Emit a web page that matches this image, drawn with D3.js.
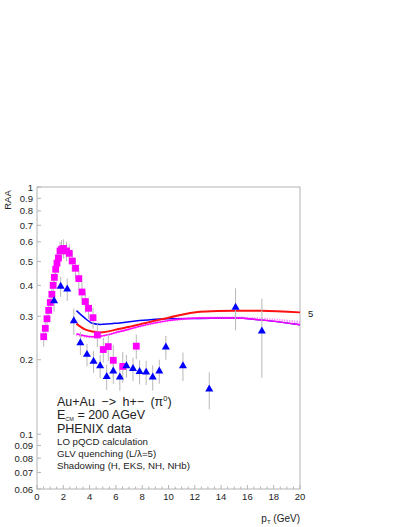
<!DOCTYPE html>
<html>
<head>
<meta charset="utf-8">
<script src="https://cdn.jsdelivr.net/npm/d3@7"></script>
<style>
  body { margin: 0; background: white; }
  svg text { font-family: "Liberation Sans", Arial, Helvetica, sans-serif; fill: #222; }
</style>
</head>
<body>
<svg id="chart" width="407" height="527"></svg>
<script>
// PHENIX data, magenta squares
var sqPt = [0.51, 0.63, 0.76, 0.89, 1.01, 1.13, 1.23, 1.32, 1.42, 1.52, 1.63, 1.75, 1.87, 2.02, 2.25, 2.45, 2.68, 2.93, 3.18, 3.42, 3.67, 3.92, 4.26, 4.59, 5.04, 5.42, 5.80, 6.52, 7.55];
var sqR  = [0.248, 0.268, 0.293, 0.317, 0.341, 0.368, 0.400, 0.431, 0.465, 0.492, 0.516, 0.551, 0.560, 0.564, 0.551, 0.539, 0.502, 0.469, 0.426, 0.376, 0.344, 0.323, 0.296, 0.252, 0.220, 0.226, 0.199, 0.188, 0.227];
var sqErr = [0.022, 0.024, 0.026, 0.028, 0.030, 0.033, 0.036, 0.039, 0.042, 0.044, 0.046, 0.049, 0.050, 0.050, 0.050, 0.049, 0.048, 0.045, 0.042, 0.038, 0.034, 0.031, 0.029, 0.027, 0.025, 0.028, 0.030, 0.027, 0.026, 0.050];

// PHENIX data, blue triangles
var triPt = [1.3, 1.8, 2.3, 2.8, 3.3, 3.8, 4.3, 4.8, 5.3, 5.8, 6.3, 6.8, 7.3, 7.8, 8.3, 8.8, 9.3, 9.8, 11.1, 13.1, 15.1, 17.1];
var triR  = [0.346, 0.396, 0.386, 0.287, 0.234, 0.210, 0.197, 0.189, 0.171, 0.180, 0.170, 0.189, 0.184, 0.179, 0.178, 0.170, 0.180, 0.225, 0.189, 0.152, 0.326, 0.261];
var triErr = [0.033, 0.037, 0.04, 0.035, 0.025, 0.022, 0.02, 0.02, 0.02, 0.02, 0.02, 0.02, 0.02, 0.02, 0.02, 0.02, 0.02, 0.025, 0.025, 0.026, 0.063, 0.092];

// LO pQCD + GLV curves, one per shadowing
var curvePt = [3.0, 3.6, 4.2, 4.8, 6.3, 7.8, 10, 12.4, 15, 17, 20];
var curveH   = [0.316, 0.296, 0.281, 0.278, 0.282, 0.288, 0.293, 0.294, 0.295, 0.290, 0.277];
var curveEKS = [0.280, 0.266, 0.260, 0.258, 0.267, 0.278, 0.296, 0.313, 0.316, 0.316, 0.311];
var curveNH  = [0.255, 0.250, 0.248, 0.249, 0.260, 0.273, 0.288, 0.295, 0.295, 0.290, 0.277];
var curveNHb = [0.252, 0.249, 0.247, 0.249, 0.260, 0.273, 0.288, 0.295, 0.296, 0.293, 0.284];

var xTicks = [0, 2, 4, 6, 8, 10, 12, 14, 16, 18, 20];
var yTicks = [1, 0.9, 0.8, 0.7, 0.6, 0.5, 0.4, 0.3, 0.2, 0.1, 0.09, 0.08, 0.07, 0.06];

var svg = d3.select("#chart");

var x = d3.scaleLinear().domain([0, 20]).range([37, 300]);
var y = d3.scaleLog().domain([0.06, 1]).range([489, 187]);

var frameCol = "#b4b4b4";

// frame
svg.append("rect")
    .attr("x", x(0)).attr("y", y(1))
    .attr("width", x(20) - x(0)).attr("height", y(0.06) - y(1))
    .attr("fill", "none")
    .attr("stroke", frameCol)
    .attr("stroke-width", 1);

// x ticks (minor every 0.5)
var minor = d3.range(0, 20.01, 0.5);
svg.append("g").selectAll("line")
    .data(minor)
    .join("line")
    .attr("x1", d => x(d)).attr("x2", d => x(d))
    .attr("y1", y(0.06))
    .attr("y2", d => y(0.06) - (d % 2 === 0 ? 4 : 2.5))
    .attr("stroke", frameCol);

svg.append("g").selectAll("text")
    .data(xTicks)
    .join("text")
    .attr("x", d => x(d))
    .attr("y", 500)
    .attr("text-anchor", "middle")
    .style("font-size", "9.5px")
    .text(d => d);

// y ticks
svg.append("g").selectAll("line")
    .data(yTicks)
    .join("line")
    .attr("x1", x(0)).attr("x2", x(0) + 4)
    .attr("y1", d => y(d)).attr("y2", d => y(d))
    .attr("stroke", frameCol);

svg.append("g").selectAll("text")
    .data(yTicks)
    .join("text")
    .attr("x", 33)
    .attr("y", d => y(d) + 3.5)
    .attr("text-anchor", "end")
    .style("font-size", "9.5px")
    .text(d => d);

// axis titles
svg.append("text")
    .attr("transform", "translate(11,200) rotate(-90)")
    .attr("text-anchor", "middle")
    .style("font-size", "9.5px")
    .text("RAA");

var pt = svg.append("text")
    .attr("x", 300)
    .attr("y", 522)
    .attr("text-anchor", "end")
    .style("font-size", "10px");
pt.append("tspan").text("p");
pt.append("tspan").attr("dy", 2).style("font-size", "6px").text("T");
pt.append("tspan").attr("dy", -2).text(" (GeV)");

// curves
var line = d3.line()
    .x((d, i) => x(curvePt[i]))
    .y(d => y(d))
    .curve(d3.curveMonotoneX);

svg.append("path").datum(curveH)
    .attr("d", line).attr("fill", "none")
    .attr("stroke", "#0000ff").attr("stroke-width", 1.5);
svg.append("path").datum(curveEKS)
    .attr("d", line).attr("fill", "none")
    .attr("stroke", "#ff1010").attr("stroke-width", 2);
svg.append("path").datum(curveNHb)
    .attr("d", line).attr("fill", "none")
    .attr("stroke", "#ff70ff").attr("stroke-width", 2.5)
    .attr("stroke-dasharray", "1,1.5");
svg.append("path").datum(curveNH)
    .attr("d", line).attr("fill", "none")
    .attr("stroke", "#ff00ff").attr("stroke-width", 1.5);

svg.append("text")
    .attr("x", 308)
    .attr("y", 316.5)
    .style("font-size", "9.5px")
    .text("5");

// error bars
var errCol = "#b8b8b8";
svg.append("g").selectAll("line")
    .data(sqPt)
    .join("line")
    .attr("x1", d => x(d)).attr("x2", d => x(d))
    .attr("y1", (d, i) => y(sqR[i] + sqErr[i]))
    .attr("y2", (d, i) => y(sqR[i] - sqErr[i]))
    .attr("stroke", errCol).attr("stroke-width", 1);

svg.append("g").selectAll("line")
    .data(triPt)
    .join("line")
    .attr("x1", d => x(d)).attr("x2", d => x(d))
    .attr("y1", (d, i) => y(triR[i] + triErr[i]))
    .attr("y2", (d, i) => y(triR[i] - triErr[i]))
    .attr("stroke", errCol).attr("stroke-width", 1);

// markers
svg.append("g").selectAll("rect")
    .data(sqPt)
    .join("rect")
    .attr("x", d => x(d) - 3.4)
    .attr("y", (d, i) => y(sqR[i]) - 3.4)
    .attr("width", 6.8).attr("height", 6.8)
    .attr("fill", "#ff00ff");

var tri = d3.symbol().type(d3.symbolTriangle).size(28);
svg.append("g").selectAll("path")
    .data(triPt)
    .join("path")
    .attr("d", tri)
    .attr("transform", (d, i) => `translate(${x(d)},${y(triR[i])})`)
    .attr("fill", "#0000ff");

// annotations
var tx = 57;
var t1 = svg.append("text").attr("x", tx).attr("y", 406)
    .style("font-size", "12.5px").style("word-spacing", "3px");
t1.append("tspan").text("Au+Au \u2212> h+\u2212 (\u03c0");
t1.append("tspan").attr("dy", -5).style("font-size", "7.5px").text("0");
t1.append("tspan").attr("dy", 5).text(")");

var t2 = svg.append("text").attr("x", tx).attr("y", 419).style("font-size", "12.5px");
t2.append("tspan").text("E");
t2.append("tspan").attr("dy", 1.5).style("font-size", "5.5px").text("CM");
t2.append("tspan").attr("dy", -1.5).text(" = 200 AGeV");

svg.append("text").attr("x", tx).attr("y", 432.5).style("font-size", "12.5px").text("PHENIX data");
svg.append("text").attr("x", tx).attr("y", 445).style("font-size", "9.7px").text("LO pQCD calculation");
svg.append("text").attr("x", tx).attr("y", 457).style("font-size", "9.7px").text("GLV quenching (L/\u03bb=5)");
svg.append("text").attr("x", tx).attr("y", 469).style("font-size", "9.7px").text("Shadowing (H, EKS, NH, NHb)");
</script>
</body>
</html>
